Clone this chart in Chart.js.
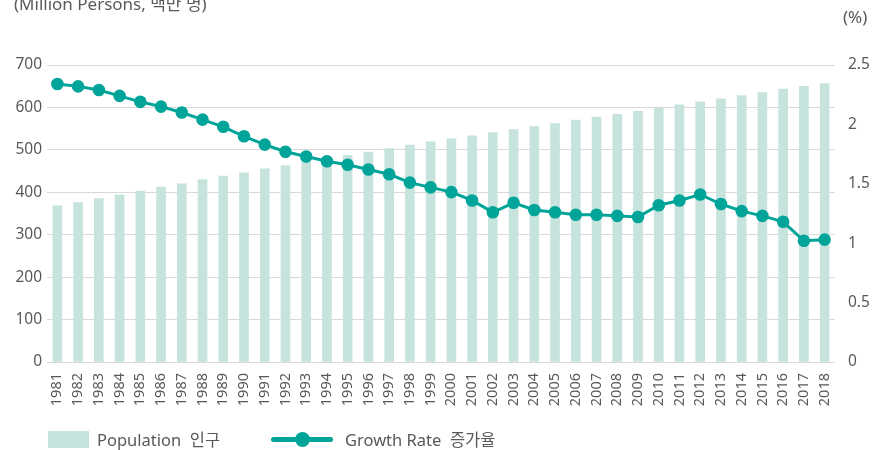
<!DOCTYPE html>
<html>
<head>
<meta charset="utf-8">
<script src="https://cdn.jsdelivr.net/npm/chart.js@4"></script>
<style>
  html, body { margin: 0; padding: 0; background: #fff; }
  #wrap { position: relative; width: 873px; height: 450px; overflow: hidden; font-family: "Noto Sans", "Noto Sans CJK KR", sans-serif; color: #595959; }
  #unitLeft { position: absolute; left: 14px; top: -10px; font-size: 17px; white-space: nowrap; }
  #unitRight { position: absolute; left: 843px; top: 5px; font-size: 17px; }
  .legend { position: absolute; top: 427px; font-size: 16.5px; display: flex; align-items: center; white-space: nowrap; }
  .swatch { width: 41px; height: 17px; background: #c7e3dd; margin-right: 8px; }
  .lineKey { position: relative; width: 62px; height: 17px; margin-right: 12px; }
  .lineKey::before { content: ""; position: absolute; left: 0; right: 0; top: 6px; height: 5px; border-radius: 3px; background: #00a499; }
  .lineKey::after { content: ""; position: absolute; left: 24px; top: 1px; width: 15px; height: 15px; border-radius: 50%; background: #00a499; }
</style>
</head>
<body>
<div id="wrap">
  <canvas id="chart" width="873" height="450"></canvas>
  <div id="unitLeft">(Million Persons, 백만 명)</div>
  <div id="unitRight">(%)</div>
  <div class="legend" style="left:48px"><div class="swatch"></div>Population&nbsp; 인구</div>
  <div class="legend" style="left:271px"><div class="lineKey"></div>Growth Rate&nbsp; 증가율</div>
</div>
<script>
const years = ["1981","1982","1983","1984","1985","1986","1987","1988","1989","1990",
  "1991","1992","1993","1994","1995","1996","1997","1998","1999","2000",
  "2001","2002","2003","2004","2005","2006","2007","2008","2009","2010",
  "2011","2012","2013","2014","2015","2016","2017","2018"];

// population, million persons
const population = [368, 376, 385, 394, 403, 412, 420, 430, 438, 446,
  455, 463, 471, 479, 487, 495, 503, 511, 519, 526,
  533, 541, 548, 555, 562, 570, 577, 584, 591, 598,
  606, 613, 620, 628, 635, 643, 650, 656];

// annual growth rate, %
const growthRate = [2.34, 2.32, 2.29, 2.24, 2.19, 2.15, 2.10, 2.04, 1.98, 1.90,
  1.83, 1.77, 1.73, 1.69, 1.66, 1.62, 1.58, 1.51, 1.47, 1.43,
  1.36, 1.26, 1.34, 1.28, 1.26, 1.24, 1.24, 1.23, 1.22, 1.32,
  1.36, 1.41, 1.33, 1.27, 1.23, 1.18, 1.02, 1.03];

const leftTicks = [0, 100, 200, 300, 400, 500, 600, 700];
const rightTicks = [0, 0.5, 1, 1.5, 2, 2.5];

const fontFamily = '"Noto Sans", "Noto Sans CJK KR", sans-serif';
const textColor = "#595959";
const gridColor = "#d9d9d9";

new Chart(document.getElementById("chart"), {
  data: {
    labels: years,
    datasets: [
      {
        type: "line",
        label: "Growth Rate 증가율",
        data: growthRate,
        yAxisID: "yRight",
        borderColor: "#00a499",
        backgroundColor: "#00a499",
        borderWidth: 3,
        pointRadius: 4.8,
        pointHoverRadius: 4.8,
        tension: 0,
        order: 0
      },
      {
        type: "bar",
        label: "Population 인구",
        data: population,
        yAxisID: "yLeft",
        backgroundColor: "#c7e3dd",
        barThickness: 9,
        order: 1
      }
    ]
  },
  options: {
    responsive: false,
    animation: false,
    layout: { padding: { top: 65, left: 0, right: 0, bottom: 0 } },
    plugins: { legend: { display: false }, tooltip: { enabled: false } },
    scales: {
      x: {
        offset: true,
        grid: { display: false },
        border: { display: false },
        ticks: {
          color: textColor,
          font: { family: fontFamily, size: 14.5 },
          minRotation: 90,
          maxRotation: 90,
          padding: 3,
          autoSkip: false
        },
        afterFit(scale) { scale.height = 88; }
      },
      yLeft: {
        position: "left",
        min: 0,
        max: 700,
        afterBuildTicks(scale) { scale.ticks = leftTicks.map((v) => ({ value: v })); },
        grid: { color: gridColor, lineWidth: 1, drawTicks: false },
        border: { display: false },
        ticks: { color: textColor, font: { family: fontFamily, size: 15.5 }, padding: 5 },
        afterFit(scale) { scale.width = 47; }
      },
      yRight: {
        position: "right",
        min: 0,
        max: 2.5,
        afterBuildTicks(scale) { scale.ticks = rightTicks.map((v) => ({ value: v })); },
        grid: { display: false, drawTicks: false },
        border: { display: false },
        ticks: {
          color: textColor,
          font: { family: fontFamily, size: 15.5 },
          padding: 13,
          callback: (v) => String(v)
        },
        afterFit(scale) { scale.width = 38; }
      }
    }
  }
});
</script>
</body>
</html>
